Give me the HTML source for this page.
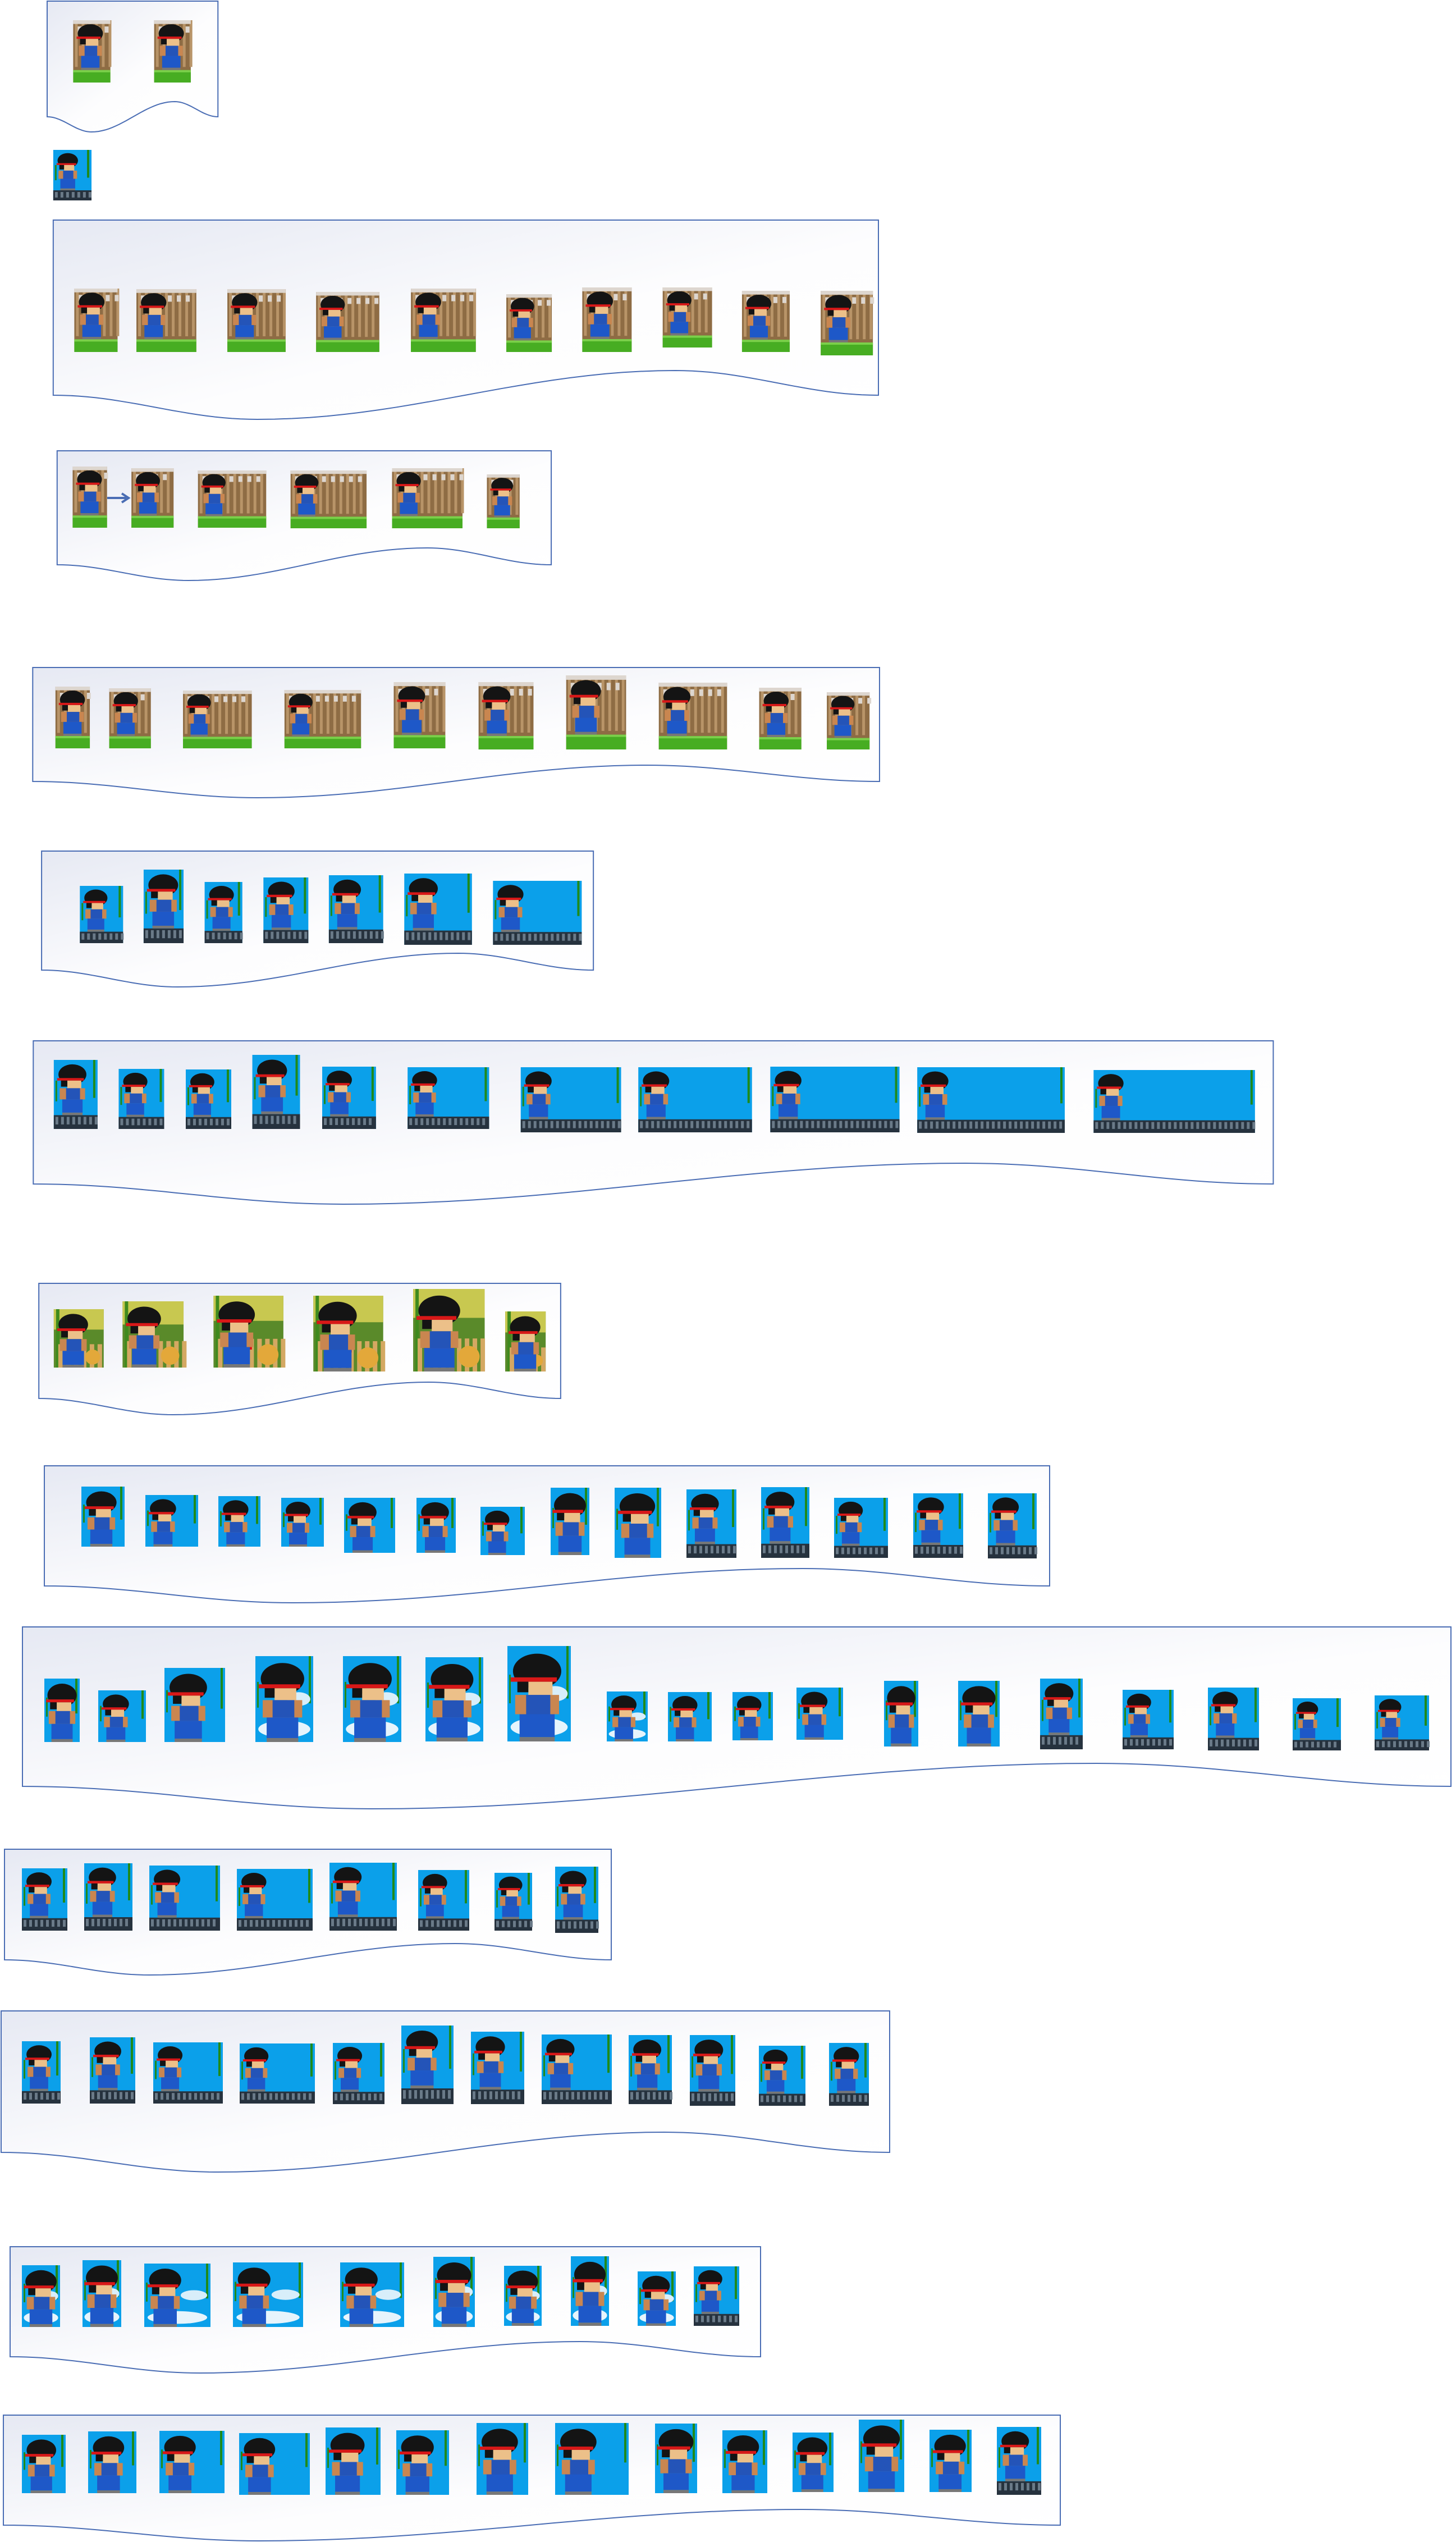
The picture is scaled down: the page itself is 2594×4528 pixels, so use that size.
<!DOCTYPE html>
<html><head><meta charset="utf-8"><title>Sprite sheet</title>
<style>html,body{margin:0;padding:0;background:#fff;}svg{display:block;}</style></head>
<body>
<svg id="sheet" xmlns="http://www.w3.org/2000/svg" width="2594" height="4528" viewBox="0 0 2594 4528">
<defs>
<linearGradient id="docg" x1="0" y1="0" x2="1" y2="1">
<stop offset="0" stop-color="#e6e9f3"/><stop offset="0.55" stop-color="#fdfdfe"/><stop offset="1" stop-color="#ffffff"/>
</linearGradient>
</defs>
<g id="docs"></g><g id="tiles"></g>
</svg>
<script>
// documents: [x0, x1, top, bottomEdge, troughX, troughY, peakX, peakY]
const docLeft   = [85, 96, 103, 59, 75, 60, 70, 79, 40, 8, 2, 18, 6];
const docRight  = [393, 1584, 994, 1586, 1070, 2296, 1011, 1870, 2585, 1089, 1585, 1355, 1889];
const docTop    = [2, 392, 803, 1189, 1516, 1854, 2286, 2611, 2898, 3294, 3582, 4002, 4302];
const docBottom = [208, 704, 1006, 1392, 1728, 2109, 2491, 2825, 3182, 3491, 3834, 4198, 4498];
const troughX   = [165, 464, 340, 464, 320, 619, 312, 521, 662, 266, 388, 356, 460];
const troughY   = [235, 747, 1034, 1421, 1758, 2145, 2520, 2855, 3222, 3518, 3869, 4227, 4526];
const peakX     = [315, 1218, 770, 1166, 826, 1741, 773, 1430, 1954, 811, 1184, 1033, 1429];
const peakY     = [181, 660, 976, 1363, 1698, 2072, 2462, 2794, 3141, 3462, 3798, 4171, 4470];

const tileX = [132,278, 96, 134,246,410,570,741,913,1050,1195,1338,1480, 131,237,357,524,707,878,
 100,197,330,513,710,863,1021,1188,1369,1491, 144,259,369,475,593,729,889,
 97,214,335,455,581,735,939,1151,1389,1654,1972, 97,221,385,565,745,911,
 145,259,389,501,613,742,856,981,1095,1223,1356,1486,1627,1760,
 79,175,293,455,611,758,904,1081,1190,1305,1419,1575,1707,1853,2000,2152,2303,2449,
 39,150,266,422,587,745,881,989,
 39,160,273,427,593,715,839,965,1120,1229,1352,1477,
 39,147,257,415,606,772,898,1017,1136,1236,
 39,157,284,426,580,706,849,989,1167,1287,1412,1530,1656,1776];
const tileY = [36,36, 267, 514,515,515,520,514,524,512,512,518,518, 831,834,838,838,834,845,
 1223,1226,1230,1229,1215,1215,1203,1216,1225,1233, 1578,1549,1571,1563,1559,1556,1569,
 1888,1904,1905,1879,1900,1901,1901,1901,1900,1901,1906, 2332,2318,2308,2308,2296,2336,
 2648,2663,2665,2668,2668,2668,2684,2650,2650,2653,2649,2668,2660,2660,
 2990,3011,2971,2950,2950,2952,2932,3013,3014,3014,3006,2994,2994,2990,3010,3006,3025,3020,
 3328,3319,3323,3329,3318,3331,3336,3325,
 3636,3629,3638,3640,3639,3608,3619,3624,3625,3625,3644,3639,
 4035,4026,4032,4030,4030,4020,4036,4019,4046,4037,
 4337,4331,4330,4334,4324,4329,4316,4316,4317,4329,4333,4310,4328,4323];
const tileR = [199,344, 165, 212,354,515,684,858,995,1139,1284,1424,1574, 193,313,480,661,834,937,
 162,272,454,651,803,962,1129,1311,1445,1568, 222,331,437,556,691,851,1049,
 176,296,417,541,678,882,1120,1356,1622,1920,2263, 187,331,511,691,874,984,
 222,353,464,577,704,812,935,1050,1178,1312,1442,1582,1716,1847,
 142,260,401,558,715,861,1017,1154,1268,1377,1502,1636,1781,1929,2091,2243,2389,2546,
 120,236,392,557,707,836,948,1066,
 108,241,397,561,685,808,934,1090,1197,1310,1435,1548,
 107,216,375,540,720,846,965,1085,1204,1317,
 117,243,400,552,678,800,941,1120,1242,1367,1485,1611,1731,1855];
const tileB = [147,147, 357, 627,627,627,627,627,627,627,619,627,633, 940,940,940,941,941,941,
 1333,1333,1333,1333,1333,1335,1335,1335,1335,1335, 1680,1680,1680,1680,1680,1683,1683,
 2011,2011,2011,2011,2011,2011,2017,2017,2017,2018,2018, 2436,2436,2436,2443,2443,2443,
 2755,2755,2755,2755,2766,2766,2770,2770,2775,2775,2775,2775,2775,2776,
 3103,3103,3103,3103,3103,3102,3102,3102,3102,3100,3099,3111,3111,3116,3116,3118,3118,3118,
 3439,3439,3439,3439,3439,3439,3439,3443,
 3747,3747,3747,3747,3748,3748,3748,3748,3748,3751,3751,3751,
 4145,4145,4145,4145,4145,4145,4143,4143,4143,4143,
 4441,4441,4441,4444,4444,4444,4444,4444,4441,4441,4439,4439,4439,4444];
const tileKind = "ww" + "s" + "wwwwwwwwww" + "wwwwww" + "wwwwwwwwww" + "sssssss" + "sssssssssss" + "xxxxxx" +
 "nnnnnnnnnsssss" + "nnncccccnnnnn" + "sssss" + "ssssssss" + "ssssssssssss" + "cccccccccs" + "nnnnnnnnnnnnns";

// horizontal correction for the upper groups (docs 1-7, first 53 tiles)
const EARLY_DOCS = 7, EARLY_TILES = 53, XS = 0.988;

const NS = "http://www.w3.org/2000/svg";
function mk(tag, attrs, parent){
  const e = document.createElementNS(NS, tag);
  for (const k in attrs) e.setAttribute(k, attrs[k]);
  parent.appendChild(e); return e;
}
function cosInterp(a, b, t){ const m = (1 - Math.cos(Math.PI * t)) / 2; return a + (b - a) * m; }

const docsG = document.getElementById('docs');
for (let i = 0; i < docLeft.length; i++) {
  const f = i < EARLY_DOCS ? XS : 1;
  const L = docLeft[i] * f, R = docRight[i] * f;
  const xs = [L, troughX[i] * f, peakX[i] * f, R];
  const ys = [docBottom[i], troughY[i], peakY[i], docBottom[i]];
  let d = `M${L},${docTop[i]} L${R},${docTop[i]} L${R},${docBottom[i]}`;
  for (let s = 2; s >= 0; s--) {
    for (let k = 1; k <= 24; k++) {
      const t = k / 24;
      const x = xs[s+1] + (xs[s] - xs[s+1]) * t;
      const y = cosInterp(ys[s+1], ys[s], t);
      d += ` L${x.toFixed(1)},${y.toFixed(1)}`;
    }
  }
  d += ' Z';
  const p = mk('path', {d: d, fill: 'url(#docg)', stroke: '#4a6db4', 'stroke-width': 2}, docsG);
  
  
}

const tilesG = document.getElementById('tiles');
for (let i = 0; i < tileX.length; i++) {
  const f = i < EARLY_TILES ? XS : 1;
  const x = tileX[i] * f, y = tileY[i], w = (tileR[i] - tileX[i]) * f, h = tileB[i] - tileY[i];
  const kind = tileKind[i] || 's';
  const g = mk('g', {}, tilesG);
  
  
  let gh = 0;
  if (kind === 'w') {
    mk('rect', {x, y, width: w, height: h, fill: '#8e6c44'}, g);
    for (let sx = x + 3; sx < x + w - 2; sx += 12) mk('rect', {x: sx, y: y, width: 5, height: h * 0.75, fill: '#b89468'}, g);
    mk('rect', {x, y, width: w, height: h * 0.06, fill: '#ddd6cf'}, g);
    for (let sx = x + 8; sx < x + w - 4; sx += 16) mk('rect', {x: sx, y: y + h * 0.1, width: 7, height: h * 0.1, fill: '#ddd6cf'}, g);
    gh = h * 0.2;
    mk('rect', {x, y: y + h - gh, width: w, height: gh, fill: '#47ad22'}, g);
    mk('rect', {x, y: y + h - gh, width: w, height: 4, fill: '#7bd04a'}, g);
  } else if (kind === 'x') {
    mk('rect', {x, y, width: w, height: h, fill: '#5a8a2a'}, g);
    mk('rect', {x, y, width: w, height: h * 0.35, fill: '#c8c850'}, g);
    mk('rect', {x: x + 4, y, width: 6, height: h, fill: '#3f8a1e'}, g);
    for (let sx = x + 8; sx < x + w; sx += 14) mk('rect', {x: sx, y: y + h * 0.6, width: 8, height: h * 0.4, fill: '#d4a862'}, g);
    mk('rect', {x: x + w * 0.25, y: y + h * 0.55, width: w * 0.3, height: h * 0.2, fill: '#e01010'}, g);
    mk('circle', {cx: x + w * 0.78, cy: y + h * 0.82, r: Math.min(w, h) * 0.15, fill: '#e3a83a'}, g);
  } else {
    mk('rect', {x, y, width: w, height: h, fill: '#0ba0ea'}, g);
    mk('rect', {x: x + w - 8, y: y, width: 4, height: h * 0.55, fill: '#1f8a1a'}, g);
    mk('rect', {x: x + 3, y: y + h * 0.3, width: 3, height: h * 0.3, fill: '#1f8a1a'}, g);
    if (kind === 'c') {
      mk('ellipse', {cx: x + w * 0.5, cy: y + h * 0.85, rx: w * 0.45, ry: h * 0.1, fill: '#e6f4fc'}, g);
      mk('ellipse', {cx: x + w * 0.75, cy: y + h * 0.5, rx: w * 0.2, ry: h * 0.08, fill: '#d8eefa'}, g);
    }
    if (kind === 's') {
      gh = Math.min(h * 0.2, 34);
      mk('rect', {x, y: y + h - gh, width: w, height: gh, fill: '#26323e'}, g);
      for (let sx = x + 3; sx < x + w - 3; sx += 10) mk('rect', {x: sx, y: y + h - gh + 3, width: 5, height: gh * 0.55, fill: '#6a7a88'}, g);
    }
  }
  // character
  const ah = h - gh;
  const fh = ah * 0.92;
  const fw = Math.min(w * 0.75, fh * 0.5);
  const cx = x + Math.min(w * 0.5, fw * 0.6 + 6);
  const top = y + ah - fh;
  mk('ellipse', {cx, cy: top + fh * 0.2, rx: fw * 0.55, ry: fh * 0.2, fill: '#141414'}, g);
  mk('rect', {x: cx - fw * 0.6, y: top + fh * 0.27, width: fw * 1.05, height: fh * 0.05, fill: '#d81818'}, g);
  mk('rect', {x: cx - fw * 0.2, y: top + fh * 0.32, width: fw * 0.55, height: fh * 0.15, fill: '#ecc089'}, g);
  mk('rect', {x: cx - fw * 0.45, y: top + fh * 0.32, width: fw * 0.25, height: fh * 0.12, fill: '#141414'}, g);
  mk('rect', {x: cx - fw * 0.5, y: top + fh * 0.47, width: fw, height: fh * 0.22, fill: '#c98650'}, g);
  mk('rect', {x: cx - fw * 0.25, y: top + fh * 0.47, width: fw * 0.55, height: fh * 0.22, fill: '#2454b8'}, g);
  mk('rect', {x: cx - fw * 0.4, y: top + fh * 0.69, width: fw * 0.8, height: fh * 0.26, fill: '#1e58c8'}, g);
  mk('rect', {x: cx - fw * 0.4, y: top + fh * 0.95, width: fw * 0.8, height: fh * 0.05, fill: '#777'}, g);
}

const arr = mk('path', {d: 'M191,887 L225,887 M217,879 L229,887 L217,895', stroke: '#4a6db4', 'stroke-width': 4, fill: 'none'}, tilesG);


</script>
</body></html>
